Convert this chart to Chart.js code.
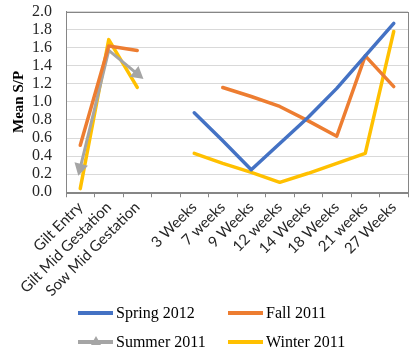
<!DOCTYPE html>
<html>
<head>
<meta charset="utf-8">
<script src="https://cdn.jsdelivr.net/npm/chart.js@4"></script>
<style>
  body { margin: 0; background: #fff; }
  #wrap { position: relative; width: 420px; height: 363px; }
  #legend { position: absolute; left: 78px; top: 303px; display: grid; grid-template-columns: 150px 150px; row-gap: 9px; font-family: "Liberation Serif", serif; font-size: 16px; color: #000; }
  .item { display: flex; align-items: center; height: 20px; }
  .swatch { width: 35px; height: 4px; margin-right: 3px; position: relative; }
  .tri { position: absolute; left: 13px; top: -4px; width: 0; height: 0; border-left: 5px solid transparent; border-right: 5px solid transparent; border-bottom: 9px solid #A5A5A5; }
</style>
</head>
<body>
<div id="wrap">
  <canvas id="chart" width="420" height="363"></canvas>
  <div id="legend"></div>
</div>
<script>
const categories = ['Gilt Entry', 'Gilt Mid Gestation', 'Sow Mid Gestation', '', '3 Weeks', '7 weeks', '9 Weeks', '12 weeks', '14 Weeks', '18 Weeks', '21 weeks', '27 Weeks'];
const spring2012 = [null, null, null, null, 0.88, 0.57, 0.25, 0.54, 0.83, 1.15, 1.51, 1.87];
const fall2011 = [0.52, 1.62, 1.57, null, null, 1.16, 1.06, 0.95, 0.79, 0.62, 1.51, 1.17];
const summer2011 = [0.27, 1.57, 1.31, null, null, null, null, null, null, null, null, null];
const winter2011 = [0.04, 1.69, 1.16, null, 0.43, 0.32, 0.22, 0.11, 0.21, 0.32, 0.43, 1.78];

// frame round the plot area
const frame = {
    id: 'frame',
    afterDraw(chart) {
        const a = chart.chartArea;
        const ctx = chart.ctx;
        ctx.save();
        ctx.strokeStyle = '#868686';
        ctx.lineWidth = 1;
        ctx.strokeRect(Math.round(a.left) + 0.5, Math.round(a.top) + 0.5, Math.round(a.right - a.left), Math.round(a.bottom - a.top));
        ctx.restore();
    }
};

function serie(label, data, color) {
    return {
        label: label,
        data: data,
        borderColor: color,
        backgroundColor: color,
        borderWidth: 3.5,
        pointRadius: 0,
        tension: 0,
        borderCapStyle: 'round',
        borderJoinStyle: 'round'
    };
}

const summer = serie('Summer 2011', summer2011, '#A5A5A5');
summer.pointStyle = 'triangle';
summer.pointRadius = [5, 0, 5];
summer.rotation = [194, 0, 129];
summer.borderWidth = 3;

const datasets = [
    serie('Spring 2012', spring2012, '#4472C4'),
    serie('Fall 2011', fall2011, '#ED7D31'),
    summer,
    serie('Winter 2011', winter2011, '#FFC000')
];

const chart = new Chart(document.getElementById('chart'), {
    type: 'line',
    data: { labels: categories, datasets: datasets },
    plugins: [frame],
    options: {
        responsive: false,
        animation: false,
        spanGaps: false,
        layout: { padding: { left: 8, right: 12, top: 2, bottom: 62 } },
        plugins: { legend: { display: false }, tooltip: { enabled: false } },
        scales: {
            x: {
                offset: true,
                grid: { offset: true, drawOnChartArea: false, tickLength: 5, color: '#868686' },
                border: { color: '#868686' },
                ticks: { maxRotation: 45, minRotation: 45, autoSkip: false, padding: 1, color: '#262626', font: { family: 'Lato', size: 15 } }
            },
            y: {
                min: 0,
                max: 2,
                grid: { color: '#d9d9d9', drawTicks: true, tickLength: 12, tickColor: 'rgba(0,0,0,0)' },
                border: { color: '#868686' },
                ticks: { stepSize: 0.2, autoSkip: false, padding: 2, color: '#262626', font: { family: 'Liberation Serif', size: 16 }, callback: v => v.toFixed(1) },
                title: { display: true, text: 'Mean S/P', color: '#000', font: { family: 'Liberation Serif', size: 15, weight: 'bold' }, padding: 2 }
            }
        }
    }
});

const legend = document.getElementById('legend');
chart.data.datasets.forEach(ds => {
    const item = document.createElement('div');
    item.className = 'item';
    const sw = document.createElement('span');
    sw.className = 'swatch';
    sw.style.background = ds.borderColor;
    if (ds.pointStyle === 'triangle') {
        const t = document.createElement('span');
        t.className = 'tri';
        sw.appendChild(t);
    }
    const txt = document.createElement('span');
    txt.textContent = ds.label;
    item.appendChild(sw);
    item.appendChild(txt);
    legend.appendChild(item);
});
</script>
</body>
</html>
